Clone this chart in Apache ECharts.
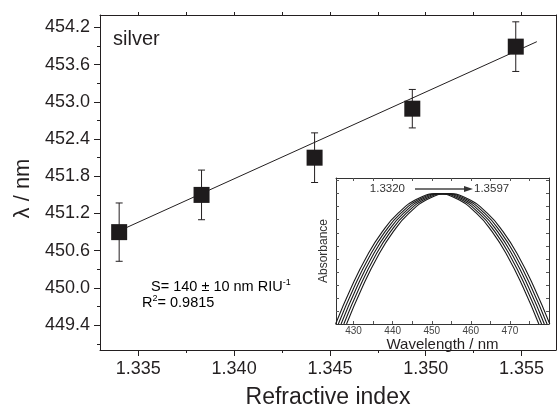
<!DOCTYPE html>
<html><head><meta charset="utf-8">
<script src="https://cdn.jsdelivr.net/npm/echarts@6/dist/echarts.min.js"></script>
<style>html,body{margin:0;padding:0;background:#fff}#c{width:557px;height:414px}</style>
</head><body><div id="c"></div>
<script>
// ---- main data ----
const refIndex  = [1.3340, 1.3383, 1.3442, 1.3493, 1.3547];
const lambdaNm  = [450.90, 451.50, 452.10, 452.89, 453.89];
const lambdaErr = [0.47, 0.40, 0.40, 0.31, 0.40];
const fitX = [1.3340, 1.3558];
const fitY = [450.92, 453.97];
// ---- tick values ----
const xMajorTicks = [1.335, 1.340, 1.345, 1.350, 1.355];
const xMinorTicks = [1.3375, 1.3425, 1.3475, 1.3525];
const yMajorTicks = [449.4, 450.0, 450.6, 451.2, 451.8, 452.4, 453.0, 453.6, 454.2];
const yMinorTicks = [449.1, 449.7, 450.3, 450.9, 451.5, 452.1, 452.7, 453.3, 453.9];
const insetXLabels = [430, 440, 450, 460, 470];
const insetXTicks = [430, 435, 440, 445, 450, 455, 460, 465, 470, 475];
const insetYTicks = [0.1, 0.2, 0.3, 0.4, 0.5, 0.6, 0.7, 0.8, 0.9, 1.0, 1.1];
// ---- inset spectra ----
const insetAbs = [0, 0.28, 0.52, 0.71, 0.85, 0.96, 1.0, 0.96, 0.85, 0.71, 0.52, 0.28, 0];
const wl1 = [425.4, 429.4, 433.4, 437.4, 441.4, 446.4, 451.4, 456.4, 461.4, 465.4, 469.4, 473.4, 477.4];
const wl2 = [426.1, 430.1, 434.1, 438.1, 442.1, 447.1, 452.1, 457.1, 462.1, 466.1, 470.1, 474.1, 478.1];
const wl3 = [426.8, 430.8, 434.8, 438.8, 442.8, 447.8, 452.8, 457.8, 462.8, 466.8, 470.8, 474.8, 478.8];
const wl4 = [427.5, 431.5, 435.5, 439.5, 443.5, 448.5, 453.5, 458.5, 463.5, 467.5, 471.5, 475.5, 479.5];
const wl5 = [428.2, 432.2, 436.2, 440.2, 444.2, 449.2, 454.2, 459.2, 464.2, 468.2, 472.2, 476.2, 480.2];
const insetCurves = [wl1, wl2, wl3, wl4, wl5];

const FONT = 'Liberation Sans, Arial, Helvetica, sans-serif';
const INK = '#231f20';

const chart = echarts.init(document.getElementById('c'), null, {renderer: 'canvas'});

const pts = refIndex.map((x, i) => [x, lambdaNm[i], lambdaErr[i]]);
const fitData = fitX.map((x, i) => [x, fitY[i]]);

const lineAxis = {show: true, onZero: false, lineStyle: {color: INK, width: 1}};
const insetLine = {show: true, onZero: false, lineStyle: {color: '#333', width: 1}};
const hiddenLine = {show: false, onZero: false};
const noLabel = {show: false};

const option = {
  animation: false,
  backgroundColor: '#fff',
  textStyle: {fontFamily: FONT},
  grid: [
    {left: 100, top: 15, right: 1, bottom: 58, containLabel: false},
    {left: 336, top: 178, width: 213, height: 146, containLabel: false}
  ],
  xAxis: [
    {gridIndex: 0, type: 'value', min: 1.333, max: 1.3568, position: 'bottom',
     axisLine: lineAxis, splitLine: {show: false},
     axisTick: {show: true, customValues: xMajorTicks, length: 6, lineStyle: {color: INK}},
     axisLabel: {customValues: xMajorTicks, formatter: v => v.toFixed(3), fontSize: 18, color: INK, margin: 10, fontFamily: FONT},
     name: 'Refractive index', nameLocation: 'middle', nameGap: 36,
     nameTextStyle: {fontSize: 23, color: INK, fontFamily: FONT}},
    {gridIndex: 0, type: 'value', min: 1.333, max: 1.3568, position: 'bottom',
     axisLine: hiddenLine, splitLine: {show: false}, axisLabel: noLabel,
     axisTick: {show: true, customValues: xMinorTicks, length: 3, lineStyle: {color: INK}}},
    {gridIndex: 0, type: 'value', min: 1.333, max: 1.3568, position: 'top',
     axisLine: lineAxis, splitLine: {show: false}, axisLabel: noLabel,
     axisTick: {show: true, customValues: xMajorTicks.concat(xMinorTicks), length: 3, lineStyle: {color: INK}}},
    {gridIndex: 1, type: 'value', min: 425.5, max: 480, position: 'bottom',
     axisLine: insetLine, splitLine: {show: false},
     axisTick: {show: true, inside: true, customValues: insetXTicks, length: 3, lineStyle: {color: '#555'}},
     axisLabel: {customValues: insetXLabels, fontSize: 10, color: '#444', margin: 2, fontFamily: FONT},
     name: 'Wavelength / nm', nameLocation: 'middle', nameGap: 12,
     nameTextStyle: {fontSize: 15, color: INK, fontFamily: FONT}},
    {gridIndex: 1, type: 'value', min: 425.5, max: 480, position: 'top',
     axisLine: insetLine, splitLine: {show: false}, axisLabel: noLabel,
     axisTick: {show: true, inside: true, customValues: insetXTicks, length: 3, lineStyle: {color: '#555'}}}
  ],
  yAxis: [
    {gridIndex: 0, type: 'value', min: 449.0, max: 454.4, position: 'left',
     axisLine: lineAxis, splitLine: {show: false},
     axisTick: {show: true, customValues: yMajorTicks, length: 6, lineStyle: {color: INK}},
     axisLabel: {customValues: yMajorTicks, formatter: v => v.toFixed(1), fontSize: 18, color: INK, margin: 10, fontFamily: FONT},
     name: 'λ / nm', nameLocation: 'middle', nameGap: 66,
     nameTextStyle: {fontSize: 22, color: INK, fontFamily: FONT, padding: [0, 12, 0, 0]}},
    {gridIndex: 0, type: 'value', min: 449.0, max: 454.4, position: 'left',
     axisLine: hiddenLine, splitLine: {show: false}, axisLabel: noLabel,
     axisTick: {show: true, customValues: yMinorTicks, length: 3, lineStyle: {color: INK}}},
    {gridIndex: 0, type: 'value', min: 449.0, max: 454.4, position: 'right',
     axisLine: lineAxis, splitLine: {show: false}, axisLabel: noLabel, axisTick: {show: false}},
    {gridIndex: 1, type: 'value', min: 0, max: 1.12, position: 'left',
     axisLine: insetLine, splitLine: {show: false}, axisLabel: noLabel,
     axisTick: {show: true, inside: true, customValues: insetYTicks, length: 3, lineStyle: {color: '#555'}},
     name: 'Absorbance', nameLocation: 'middle', nameGap: 6,
     nameTextStyle: {fontSize: 12, color: '#333', fontFamily: FONT}},
    {gridIndex: 1, type: 'value', min: 0, max: 1.12, position: 'right',
     axisLine: insetLine, splitLine: {show: false}, axisLabel: noLabel,
     axisTick: {show: true, inside: true, customValues: insetYTicks, length: 3, lineStyle: {color: '#555'}}}
  ],
  series: [
    {type: 'line', xAxisIndex: 0, yAxisIndex: 0, data: fitData, symbol: 'none',
     lineStyle: {color: INK, width: 1}, z: 2},
    {type: 'custom', xAxisIndex: 0, yAxisIndex: 0, data: pts, z: 3,
     encode: {x: 0, y: 1},
     renderItem: (params, api) => {
       const x = api.value(0), y = api.value(1), e = api.value(2);
       const t = api.coord([x, y + e]);
       const b = api.coord([x, y - e]);
       const cw = 3.5;
       const st = {stroke: INK, lineWidth: 1};
       return {type: 'group', children: [
         {type: 'line', shape: {x1: t[0], y1: t[1], x2: b[0], y2: b[1]}, style: st},
         {type: 'line', shape: {x1: t[0] - cw, y1: t[1], x2: t[0] + cw, y2: t[1]}, style: st},
         {type: 'line', shape: {x1: b[0] - cw, y1: b[1], x2: b[0] + cw, y2: b[1]}, style: st}
       ]};
     }},
    {type: 'scatter', xAxisIndex: 0, yAxisIndex: 0, data: pts.map(p => [p[0], p[1]]),
     symbol: 'rect', symbolSize: 16, itemStyle: {color: '#1e1b1c', opacity: 1}, z: 4},
  ].concat(insetCurves.map(wl => ({
    type: 'line', xAxisIndex: 3, yAxisIndex: 3, smooth: true, symbol: 'none', clip: true, z: 6,
    data: wl.map((w, i) => [w, insetAbs[i]]),
    lineStyle: {color: '#1a1a1a', width: 1.1}
  }))),
  graphic: [
    {type: 'text', left: 113, top: 29, z: 10,
     style: {text: 'silver', font: '20px ' + FONT, fill: INK}},
    {type: 'text', x: 151, y: 278, z: 10,
     style: {text: '{n|S= 140 ± 10 nm RIU}{s|-1}',
       rich: {n: {fontSize: 14.5, fontFamily: FONT, color: INK},
              s: {fontSize: 9, fontFamily: FONT, color: INK, padding: [0, 0, 8, 0]}}}},
    {type: 'text', x: 142, y: 294, z: 10,
     style: {text: '{n|R}{s|2}{n|= 0.9815}',
       rich: {n: {fontSize: 14.5, fontFamily: FONT, color: INK},
              s: {fontSize: 9, fontFamily: FONT, color: INK, padding: [0, 0, 8, 0]}}}},
    {type: 'text', x: 405, y: 189, z: 10,
     style: {text: '1.3320', font: '11.5px ' + FONT, fill: '#333', align: 'right', verticalAlign: 'middle'}},
    {type: 'line', z: 10, shape: {x1: 415, y1: 189, x2: 466, y2: 189}, style: {stroke: '#444', lineWidth: 1.5}},
    {type: 'polygon', z: 10, shape: {points: [[464, 186], [473, 189], [464, 192]]}, style: {fill: '#333'}},
    {type: 'text', x: 474, y: 189, z: 10,
     style: {text: '1.3597', font: '11.5px ' + FONT, fill: '#333', align: 'left', verticalAlign: 'middle'}}
  ]
};
chart.setOption(option);
</script></body></html>
